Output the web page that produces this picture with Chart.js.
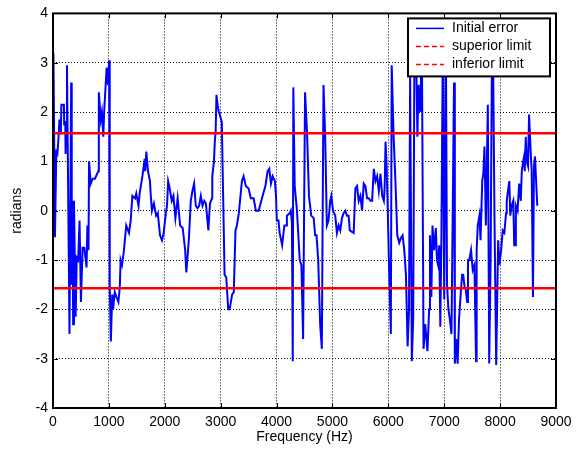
<!DOCTYPE html>
<html>
<head>
<meta charset="utf-8">
<script src="https://cdn.jsdelivr.net/npm/chart.js@4.4.1/dist/chart.umd.min.js"></script>
<style>
  html, body { margin: 0; padding: 0; background: #fff; }
</style>
</head>
<body>
<canvas id="chart" width="580" height="453"></canvas>
<script>
// frequency (Hz) and phase error (rad)
const freqHz = [
  8, 35, 60, 75, 100, 115, 140, 150, 195, 200, 220, 225, 235, 250, 295, 325, 335, 350, 360, 375,
  405, 425, 450, 475, 500, 530, 560, 600, 615, 635, 645, 675, 710, 750, 810, 820, 855, 875, 900, 915,
  960, 985, 1005, 1015, 1035, 1060, 1075, 1105, 1135, 1170, 1195, 1210, 1235, 1265, 1290, 1310, 1360, 1390, 1420, 1470,
  1490, 1530, 1550, 1600, 1640, 1650, 1670, 1700, 1735, 1750, 1770, 1805, 1845, 1875, 1915, 1950, 1980, 2020, 2040, 2060,
  2080, 2125, 2155, 2190, 2230, 2275, 2320, 2355, 2365, 2385, 2410, 2435, 2465, 2495, 2525, 2555, 2585, 2615, 2645, 2675,
  2705, 2735, 2780, 2795, 2810, 2845, 2850, 2880, 2895, 2910, 2925, 2950, 2970, 3020, 3070, 3100, 3135, 3160, 3205, 3235,
  3265, 3290, 3325, 3380, 3410, 3450, 3500, 3540, 3590, 3630, 3680, 3750, 3800, 3840, 3870, 3900, 3930, 3970, 3990, 4005,
  4035, 4055, 4100, 4140, 4170, 4185, 4235, 4255, 4275, 4290, 4300, 4325, 4365, 4415, 4445, 4475, 4510, 4545, 4580, 4620,
  4665, 4690, 4715, 4745, 4780, 4810, 4840, 4870, 4900, 4930, 4960, 4980, 5010, 5050, 5080, 5110, 5140, 5170, 5200, 5230,
  5260, 5290, 5310, 5380, 5410, 5440, 5470, 5500, 5530, 5560, 5590, 5620, 5650, 5680, 5710, 5740, 5770, 5800, 5830, 5860,
  5890, 5920, 5935, 5950, 5970, 5990, 6010, 6045, 6060, 6095, 6130, 6160, 6195, 6225, 6255, 6285, 6315, 6345, 6370, 6390,
  6420, 6445, 6465, 6495, 6520, 6540, 6570, 6600, 6630, 6660, 6700, 6730, 6745, 6770, 6790, 6820, 6850, 6870, 6890, 6910,
  6930, 6950, 6975, 7000, 7030, 7050, 7075, 7100, 7130, 7175, 7190, 7215, 7240, 7265, 7300, 7320, 7340, 7365, 7385, 7410,
  7425, 7450, 7480, 7510, 7540, 7570, 7580, 7600, 7630, 7650, 7680, 7700, 7720, 7745, 7780, 7805, 7830, 7855, 7875, 7900,
  7930, 7965, 7988, 8018, 8047, 8076, 8106, 8118, 8135, 8165, 8182, 8206, 8235, 8253, 8270, 8282, 8312, 8341, 8370, 8388,
  8412, 8429, 8441, 8459, 8476, 8500, 8518, 8547, 8565, 8588, 8606, 8624, 8665
];
const phaseRad = [
  3.19, -0.54, 1.24, 1.1, 1.5, 1.85, 1.55, 2.15, 2.15, 1.75, 1.75, 1.15, 1.8, 2.95, -2.5, 2.6, -1.5, 0.2, -2.3, 0.2,
  -2.15, -0.95, -1.0, -0.2, -1.85, -0.75, -0.75, -1.15, -0.3, -0.8, 1.0, 0.55, 0.65, 0.65, 0.8, 2.4, 1.85, 2.0, 1.5, 2.0,
  2.9, 2.55, 3.05, -1.5, -2.65, -1.7, -2.0, -1.65, -1.75, -1.85, -1.55, -1.0, -1.1, -0.85, -0.55, -0.3, -0.45, -0.2, 0.3, 0.25,
  0.35, 0.1, 0.35, 0.7, 1.05, 0.8, 1.2, 0.8, 0.6, 0.3, 0.0, 0.15, -0.1, -0.05, -0.5, -0.6, -0.45, -0.05, 0.1, 0.6,
  0.5, 0.2, 0.3, -0.15, 0.25, -0.3, -0.35, -0.7, -0.8, -1.25, -0.9, -0.5, 0.2, 0.4, 0.55, 0.1, 0.05, 0.1, 0.3, 0.1,
  0.2, 0.15, -0.4, -0.1, 0.15, 0.25, 0.7, 1.0, 1.4, 1.6, 2.35, 2.1, 2.0, 1.8, -1.3, -1.35, -2.0, -2.0, -1.7, -1.65,
  -0.4, -0.3, -0.05, 0.6, 0.7, 0.5, 0.45, 0.25, 0.25, 0.0, 0.0, 0.3, 0.5, 0.8, 0.85, 0.55, 0.7, 0.6, 0.3, -0.2,
  -0.2, -0.45, -0.7, -0.3, -0.3, -0.1, -0.05, 0.0, -0.25, -3.05, 2.5, 0.5, 0.0, -1.0, -1.1, -2.6, 2.4, 1.6, 0.3, -0.1,
  -0.15, -0.5, -0.5, -1.0, -2.3, -2.8, 2.55, 1.5, -0.3, -0.2, 0.2, 0.3, 0.0, -0.1, -0.45, -0.3, -0.4, -0.15, -0.05, 0.0,
  -0.1, -0.1, -0.4, -0.45, 0.45, 0.5, 0.2, 0.3, 0.0, 0.55, 0.5, 0.25, 0.25, 0.2, 0.2, 0.85, 0.6, 0.7, 0.4, 0.75,
  0.3, 0.2, 0.5, 1.4, 0.9, 0.0, -1.0, -2.5, 2.95, 1.5, 0.5, -0.5, -0.65, -0.55, -0.5, -0.8, -1.3, -2.75, -2.0, 2.75,
  -3.05, -2.2, 2.75, 3.4, 1.5, 2.55, 2.0, 3.4, -2.8, -2.3, -2.85, -2.0, -0.5, -1.75, -0.3, -0.8, -0.35, -1.0, -1.1, -0.7,
  -2.35, -0.5, 3.4, -1.8, 3.4, -1.5, -2.0, -2.2, -2.5, 2.6, -3.1, -2.6, -3.1, -2.2, -1.6, -1.3, -1.3, -1.55, -1.6, -1.85,
  -1.0, -1.0, -0.8, -1.2, -1.1, -3.05, -0.8, -0.3, -0.1, -0.6, 0.6, 0.75, 1.3, -0.3, 2.15, -3.1, -1.0, 3.4, 3.0, -0.2,
  -3.13, -0.6, -1.1, -0.8, -0.4, -0.45, -0.05, 0.2, 0.35, 0.6, -0.1, 0.1, 0.2, -0.7, -0.7, 0.1, 0.0, 0.55, 0.2, 0.8,
  1.0, 1.1, 0.8, 1.5, 1.0, 0.9, 1.95, 1.2, 0.8, -1.75, 0.9, 1.1, 0.1
];
const limitX = [0, 9000];
const superiorLimit = [1.5708, 1.5708];
const inferiorLimit = [-1.5708, -1.5708];

const xTicks = [0, 1000, 2000, 3000, 4000, 5000, 6000, 7000, 8000, 9000];
const yTicks = [-4, -3, -2, -1, 0, 1, 2, 3, 4];

const FONT = "'Liberation Sans', Arial, Helvetica, sans-serif";

const toPoints = (xs, ys) => xs.map((x, i) => ({ x: x, y: ys[i] }));

// black frame + inward ticks, MATLAB style
const framePlugin = {
  id: "frame",
  afterDraw(chart) {
    const { ctx, chartArea: a, scales } = chart;
    ctx.save();
    ctx.strokeStyle = "#000";
    ctx.lineWidth = 1;
    ctx.beginPath();
    xTicks.forEach((v) => {
      const px = Math.round(scales.x.getPixelForValue(v)) + 0.5;
      ctx.moveTo(px, a.bottom); ctx.lineTo(px, a.bottom - 5);
      ctx.moveTo(px, a.top); ctx.lineTo(px, a.top + 5);
    });
    yTicks.forEach((v) => {
      const py = Math.round(scales.y.getPixelForValue(v)) + 0.5;
      ctx.moveTo(a.left, py); ctx.lineTo(a.left + 5, py);
      ctx.moveTo(a.right, py); ctx.lineTo(a.right - 5, py);
    });
    ctx.stroke();
    ctx.lineWidth = 2;
    ctx.strokeRect(a.left, a.top, a.right - a.left, a.bottom - a.top);
    ctx.restore();
  },
};

// boxed legend inside the top right corner
const legendPlugin = {
  id: "boxLegend",
  afterDraw(chart) {
    const { ctx, chartArea: a } = chart;
    const w = 142, h = 58;
    const x0 = a.right - 6 - w, y0 = a.top + 5;
    ctx.save();
    ctx.fillStyle = "#fff";
    ctx.fillRect(x0, y0, w, h);
    ctx.strokeStyle = "#000";
    ctx.lineWidth = 2;
    ctx.strokeRect(x0, y0, w, h);
    ctx.font = "14px " + FONT;
    ctx.textBaseline = "middle";
    chart.data.datasets.forEach((ds, i) => {
      const y = y0 + 10 + i * 18;
      ctx.strokeStyle = ds.borderColor;
      ctx.lineWidth = 1.5;
      ctx.setLineDash(i === 0 ? [] : [5, 3]);
      ctx.beginPath();
      ctx.moveTo(x0 + 8, y);
      ctx.lineTo(x0 + 36, y);
      ctx.stroke();
      ctx.setLineDash([]);
      ctx.fillStyle = "#000";
      ctx.fillText(ds.label, x0 + 44, y);
    });
    ctx.restore();
  },
};

const data = {
  datasets: [
    {
      label: "Initial error",
      data: toPoints(freqHz, phaseRad),
      borderColor: "#0000ff",
      borderWidth: 2,
      pointRadius: 0,
      order: 2,
    },
    {
      label: "superior limit",
      data: toPoints(limitX, superiorLimit),
      borderColor: "#ff0000",
      borderWidth: 2.5,
      pointRadius: 0,
      order: 1,
    },
    {
      label: "inferior limit",
      data: toPoints(limitX, inferiorLimit),
      borderColor: "#ff0000",
      borderWidth: 2.5,
      pointRadius: 0,
      order: 0,
    },
  ],
};

const config = {
  type: "line",
  data: data,
  options: {
    responsive: false,
    animation: false,
    devicePixelRatio: 1,
    layout: { padding: { top: 12, right: 24, left: 0, bottom: 0 } },
    plugins: {
      legend: { display: false },
      tooltip: { enabled: false },
    },
    elements: { line: { tension: 0 } },
    scales: {
      x: {
        type: "linear",
        min: 0,
        max: 9000,
        afterBuildTicks: (scale) => {
          scale.ticks = xTicks.map((v) => ({ value: v }));
        },
        afterFit: (scale) => {
          scale.height = 45;
        },
        ticks: {
          color: "#000",
          padding: 6,
          maxRotation: 0,
          font: { family: FONT, size: 14 },
          callback: (value) => String(value),
        },
        grid: { color: "#000", lineWidth: 1, drawTicks: false },
        border: { display: false, dash: [1, 2] },
        title: {
          display: true,
          text: "Frequency (Hz)",
          color: "#000",
          font: { family: FONT, size: 14 },
          padding: { top: 0, bottom: 7 },
        },
      },
      y: {
        type: "linear",
        min: -4,
        max: 4,
        afterBuildTicks: (scale) => {
          scale.ticks = yTicks.map((v) => ({ value: v }));
        },
        afterFit: (scale) => {
          scale.width = 53;
        },
        ticks: {
          color: "#000",
          padding: 5,
          font: { family: FONT, size: 14 },
          callback: (value) => String(value),
        },
        grid: { color: "#000", lineWidth: 1, drawTicks: false },
        border: { display: false, dash: [1, 2] },
        title: {
          display: true,
          text: "radians",
          color: "#000",
          font: { family: FONT, size: 14 },
          padding: { top: 9, bottom: 0 },
        },
      },
    },
  },
  plugins: [framePlugin, legendPlugin],
};

new Chart("chart", config);
</script>
</body>
</html>
